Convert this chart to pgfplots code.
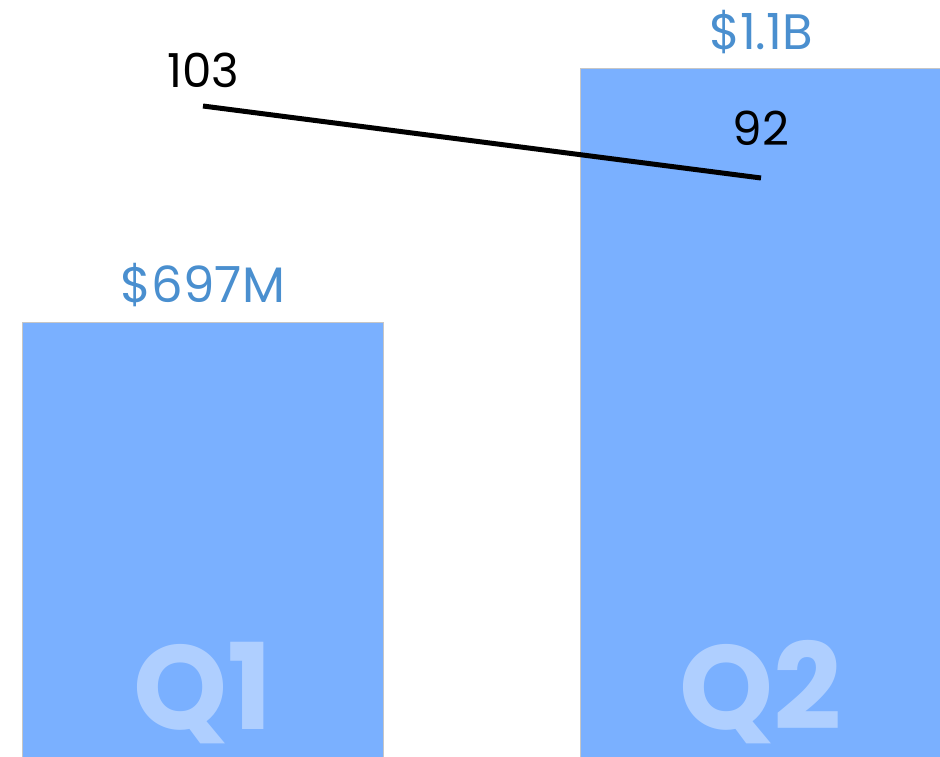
\documentclass[border=0pt]{standalone}
\usepackage{pgfplots}
\pgfplotsset{compat=1.18}
\usepackage{fontspec}
\setmainfont{Poppins}
\definecolor{barblue}{HTML}{7AB0FF}
\definecolor{lblblue}{HTML}{4A8FCF}
\begin{document}
\begin{tikzpicture}
\path[use as bounding box] (0,0) rectangle (470bp,378.5bp);
\clip (0,0) rectangle (470bp,378.5bp);
\begin{axis}[at={(0,0)}, anchor=south west, scale only axis,
  width=470bp, height=378.5bp, hide axis,
  xmin=-0.3638, xmax=1.3208, ymin=8.4, ymax=1209.4]
\addplot[ybar, bar width=0.6487, fill=barblue, draw=gray!45, line width=0.5bp] coordinates {(0,697) (1,1100)};
\node[text=lblblue, font=\fontsize{25}{30}\selectfont, anchor=center, yshift=19bp] at (axis cs:0,697) {\$697M};
\node[text=lblblue, font=\fontsize{25}{30}\selectfont, anchor=center, yshift=18.5bp] at (axis cs:1,1100) {\$1.1B};
\node[text=white, text opacity=0.4, font=\fontsize{60}{60}\selectfont\bfseries, anchor=base, inner sep=0pt, text depth=0pt, yshift=16.5bp] at (axis cs:0,0) {Q1};
\node[text=white, text opacity=0.4, font=\fontsize{60}{60}\selectfont\bfseries, anchor=base, inner sep=0pt, text depth=0pt, yshift=16.5bp] at (axis cs:1,0) {Q2};
\end{axis}
\begin{axis}[at={(0,0)}, anchor=south west, scale only axis,
  width=470bp, height=378.5bp, hide axis,
  xmin=-0.3638, xmax=1.3208, ymin=3.53, ymax=119.2]
\addplot[black, line width=2.5bp] coordinates {(0,103) (1,92)};
\node[text=black, font=\fontsize{23.5}{28}\selectfont, anchor=center, yshift=18bp] at (axis cs:0,103) {103};
\node[text=black, font=\fontsize{23.5}{28}\selectfont, anchor=center, yshift=25bp] at (axis cs:1,92) {92};
\end{axis}
\end{tikzpicture}
\end{document}
